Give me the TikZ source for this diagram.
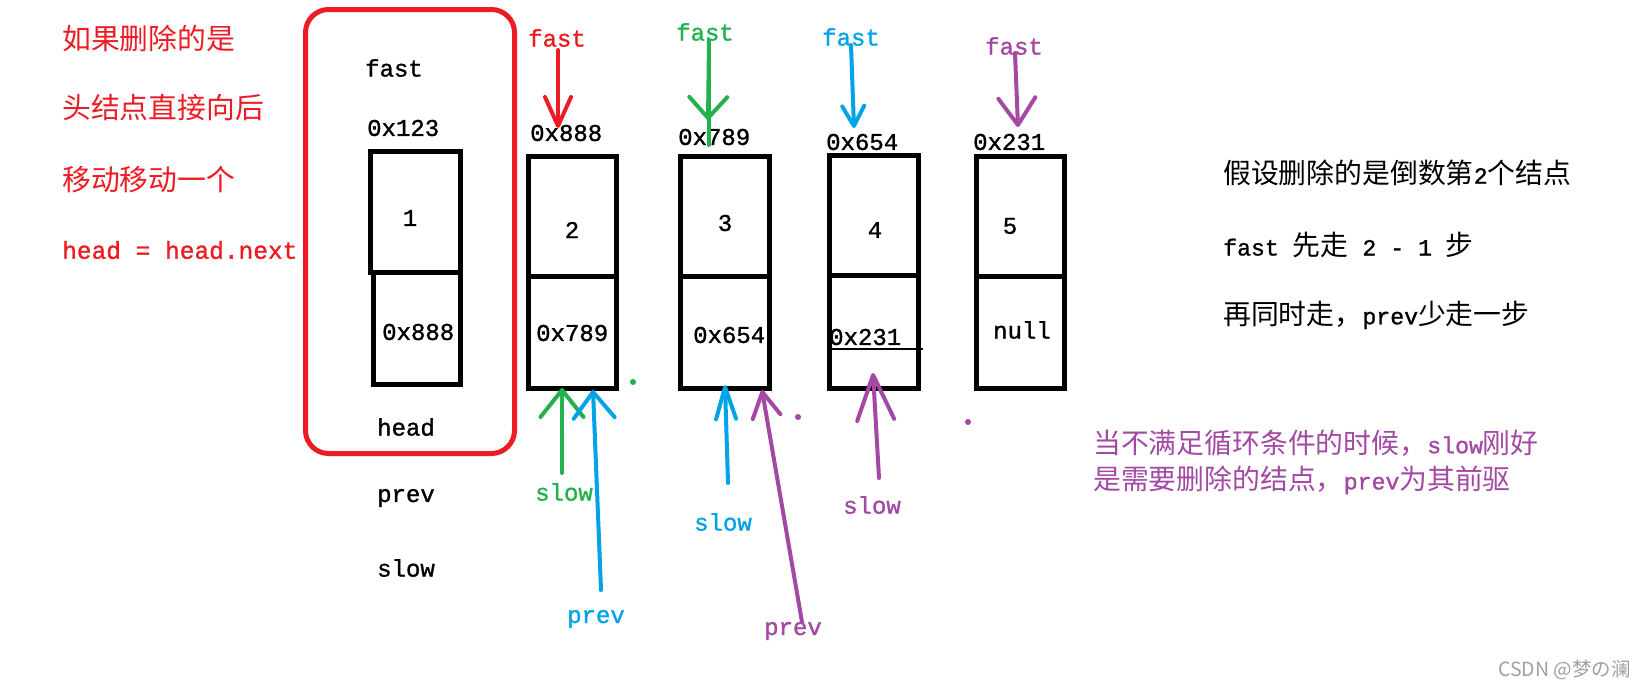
\documentclass[tikz,border=0pt]{standalone}
\usepackage{fontspec}
\setmainfont[FakeBold=1.2]{Liberation Mono}
\newfontfamily\cjk[Scale=1.2]{Noto Sans CJK SC}
\newfontfamily\wmfont{Noto Sans CJK SC}
\usetikzlibrary{arrows.meta}
\definecolor{pred}{HTML}{ED1C24}
\definecolor{pgreen}{HTML}{22B14C}
\definecolor{pblue}{HTML}{00A2E8}
\definecolor{ppurple}{HTML}{A349A4}
\definecolor{wmgray}{HTML}{A0A0A0}
\tikzset{
  lbl/.style={anchor=west, inner sep=0pt, font=\fontsize{24}{28}\selectfont},
  lblc/.style={anchor=center, inner sep=0pt, font=\fontsize{24}{28}\selectfont},
  side/.style={anchor=west, inner sep=0pt, font=\fontsize{23.2}{28}\selectfont},
  cell/.style n args={2}{draw, rectangle, line width=5pt, inner sep=0pt, minimum width=#1, minimum height=#2},
  ptr/.style n args={2}{line width=4pt, line cap=round, line join=round, -{Straight Barb[length=#1, width=#2, round]}},
  plain/.style={line width=4pt, line cap=round},
}
\begin{document}
\begin{tikzpicture}[x=1pt,y=-1pt]
\useasboundingbox (0,0) rectangle (1645,686);
\fill[white] (0,0) rectangle (1645,686);

% red explanation
\node[lbl, text=pred] (t1) at (62,38) {\cjk 如果删除的是};
\node[lbl, text=pred] (t2) at (62,108) {\cjk 头结点直接向后};
\node[lbl, text=pred] (t3) at (62,180) {\cjk 移动移动一个};
\node[lbl, text=pred, font=\fontsize{24.5}{28}\selectfont] (t4) at (62,250) {head = head.next};

% red frame
\draw[pred, line width=5pt, rounded corners=23pt] (305.5,9.5) rectangle (514.5,453.5);

% node 1
\node[lbl] (hf) at (365,68) {fast};
\node[lbl] (ha) at (367,128) {0x123};
\node[cell={90pt}{120.5pt}] (b1t) at (415.5,211.75) {};
\node[cell={87pt}{112.5pt}] (b1b) at (417,328.25) {};
\node[lblc] (v1) at (410,218) {1};
\node[lbl] (p1) at (382,332) {0x888};
\node[lbl] (hh) at (377,427) {head};
\node[lbl] (hp) at (377,498) {prev};
\node[lbl] (hs) at (377,568) {slow};

% node 2
\node[cell={88pt}{119.5pt}] (b2t) at (572.5,216.25) {};
\node[cell={88pt}{112.5pt}] (b2b) at (572.5,332.25) {};
\node[lbl] (a2) at (530,133) {0x888};
\node[lblc] (v2) at (572,230) {2};
\node[lbl] (p2) at (536,333) {0x789};

% node 3
\node[cell={89pt}{119.5pt}] (b3t) at (725,216.25) {};
\node[cell={89pt}{112.5pt}] (b3b) at (725,332.25) {};
\node[lbl] (a3) at (678,137) {0x789};
\node[lblc] (v3) at (725,223) {3};
\node[lbl] (p3) at (693,335) {0x654};

% node 4
\node[cell={89pt}{119.5pt}] (b4t) at (874,215.25) {};
\node[cell={89pt}{113.5pt}] (b4b) at (874,331.75) {};
\node[lbl] (a4) at (826,142) {0x654};
\node[lblc] (v4) at (875,230) {4};
\node[lbl] (p4) at (829,337) {0x231};
\draw[line width=1.5pt] (832,349) -- (923,349);

% node 5
\node[cell={88pt}{119.5pt}] (b5t) at (1020.5,216.25) {};
\node[cell={88pt}{112.5pt}] (b5b) at (1020.5,332.25) {};
\node[lbl] (a5) at (973,142) {0x231};
\node[lblc] (v5) at (1010,226) {5};
\node[lbl] (p5) at (993,330) {null};

% fast labels and arrows
\node[lbl, text=pred] (fr) at (528,38) {fast};
\node[lbl, text=pgreen] (fg) at (676,32) {fast};
\node[lbl, text=pblue] (fb) at (822,37) {fast};
\node[lbl, text=ppurple] (fp) at (985,46) {fast};

\coordinate (frT) at (558,50);  \coordinate (frH) at (558,128);
\coordinate (fgT) at (709,40);  \coordinate (fgH) at (708,120); \coordinate (fgE) at (709,145);
\coordinate (fbT) at (851,45);  \coordinate (fbH) at (854,128);
\coordinate (fpT) at (1015,53); \coordinate (fpH) at (1018,127);

\draw[pred, ptr={29pt}{26pt}] (frT) -- (frH);
\draw[pgreen, plain] (fgT) -- (fgE);
\draw[pgreen, ptr={21pt}{38pt}] (fgT) -- (fgH);
\draw[pblue, ptr={20pt}{22pt}] (fbT) -- (fbH);
\draw[ppurple, ptr={27pt}{37pt}] (fpT) -- (fpH);

% slow / prev labels and arrows
\node[lbl, text=pgreen] (sg) at (535,492) {slow};
\node[lbl, text=pblue] (pb) at (567,619) {prev};
\node[lbl, text=pblue] (sb) at (694,522) {slow};
\node[lbl, text=ppurple] (pp) at (764,631) {prev};
\node[lbl, text=ppurple] (sp) at (843,505) {slow};

\coordinate (sgT) at (562,473); \coordinate (sgH) at (562,388);
\coordinate (pbT) at (601,590); \coordinate (pbH) at (593,390);
\coordinate (sbT) at (728,483); \coordinate (sbH) at (725,385);
\coordinate (ppT) at (802,622); \coordinate (ppH) at (762,390);
\coordinate (spT) at (879,478); \coordinate (spH) at (873,373);

\draw[pgreen, ptr={27pt}{43pt}] (sgT) -- (sgH);
\draw[pblue, ptr={26pt}{41pt}] (pbT) -- (pbH);
\draw[pblue, ptr={32pt}{20pt}] (sbT) -- (sbH);
\draw[ppurple, ptr={25pt}{28pt}] (ppT) -- (ppH);
\draw[ppurple, ptr={45pt}{37pt}] (spT) -- (spH);

% stray dots
\fill[pgreen] (633,382) circle (3pt);
\fill[ppurple] (798,417) circle (3pt);
\fill[ppurple] (968,422) circle (3pt);

% right explanation
\node[side] (r1) at (1223,173) {{\cjk 假设删除的是倒数第}2{\cjk 个结点}};
\node[side] (r2) at (1223,245) {fast {\cjk 先走} 2 - 1 {\cjk 步}};
\node[side] (r3) at (1223,315) {{\cjk 再同时走，}prev{\cjk 少走一步}};
\node[side, text=ppurple] (q1) at (1093,443) {{\cjk 当不满足循环条件的时候，}slow{\cjk 刚好}};
\node[side, text=ppurple] (q2) at (1093,480) {{\cjk 是需要删除的结点，}prev{\cjk 为其前驱}};

% watermark
\node[anchor=west, inner sep=0pt, text=wmgray, font=\wmfont\fontsize{19.5}{22}\selectfont] (wm) at (1498,670) {CSDN @梦の澜};
\end{tikzpicture}
\end{document}
